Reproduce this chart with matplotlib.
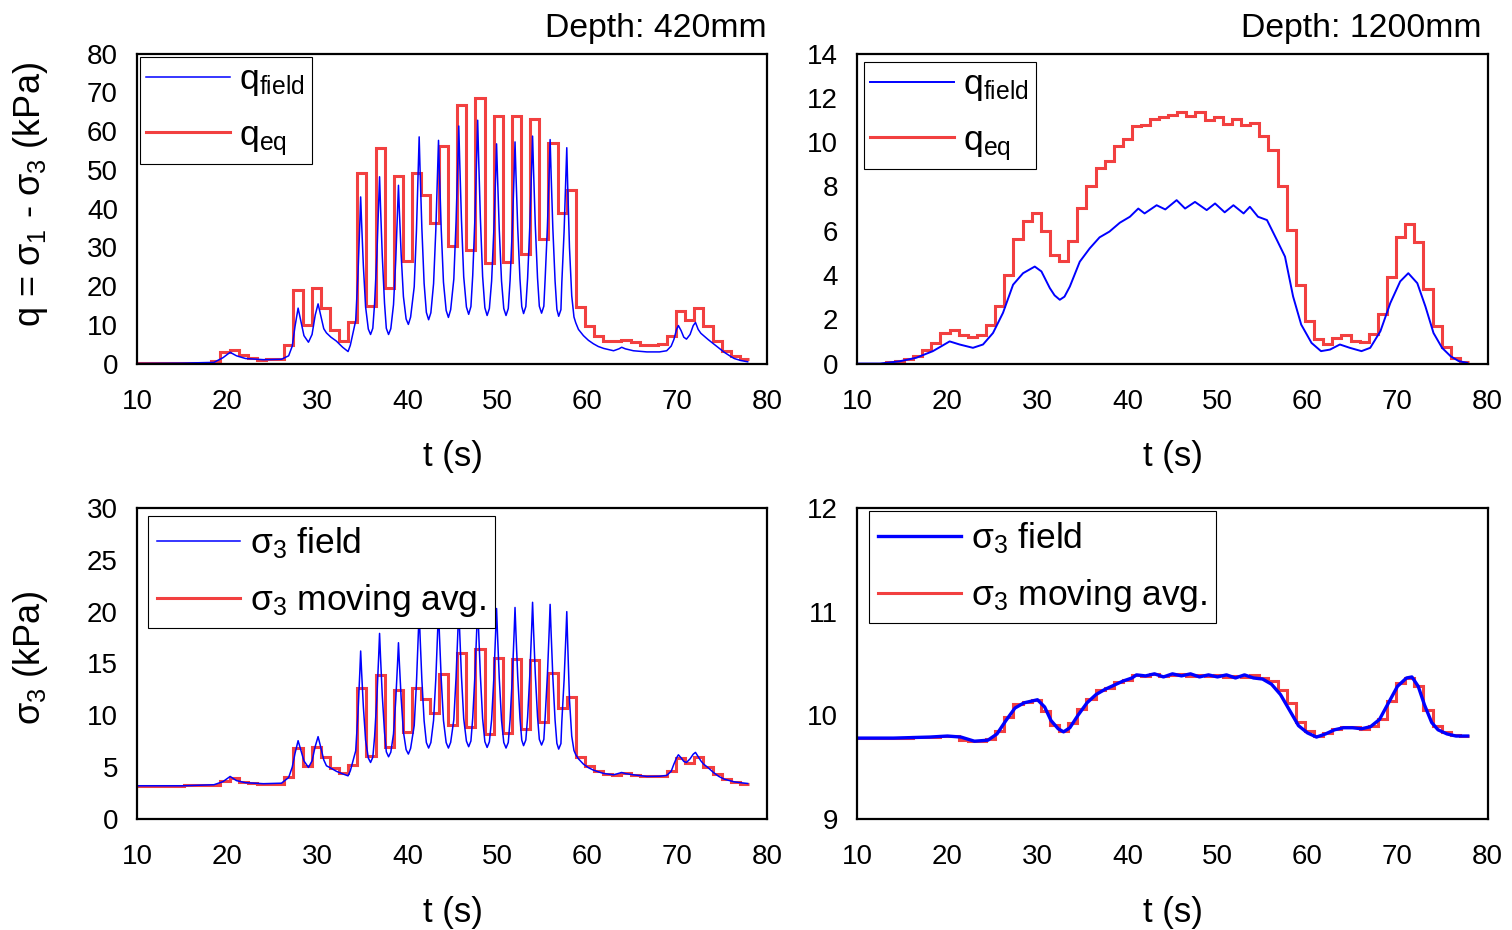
"""Field stress records at two depths against the 1 s moving-window equivalents."""

import numpy as np
import matplotlib
matplotlib.use("Agg")
import matplotlib.pyplot as plt

plt.rcParams["font.family"] = ["Liberation Sans", "DejaVu Sans"]
plt.rcParams["mathtext.fontset"] = "custom"
plt.rcParams["mathtext.rm"] = "Liberation Sans"
plt.rcParams["mathtext.it"] = "Liberation Sans:italic"
plt.rcParams["mathtext.bf"] = "Liberation Sans:bold"
plt.rcParams["mathtext.default"] = "regular"

BLUE = "#0000FF"
RED = "#F24040"

# window edges (s) of the moving average, shared by all four records
win_edges = [
    10.0, 13.15, 14.15, 15.15, 16.15, 17.2,
    18.2, 19.2, 20.25, 21.25, 22.3, 23.3, 24.3, 25.3, 26.3, 27.3,
    28.35, 29.35, 30.35, 31.35, 32.4, 33.4, 34.4, 35.4, 36.45, 37.45,
    38.45, 39.5, 40.5, 41.5, 42.55, 43.55, 44.55, 45.55, 46.55, 47.55,
    48.6, 49.6, 50.6, 51.6, 52.65, 53.65, 54.65, 55.65, 56.7, 57.7,
    58.7, 59.7, 60.75, 61.75, 62.75, 63.75, 64.8, 65.8, 66.8, 67.8,
    68.8, 69.85, 70.85, 71.85, 72.85, 73.9, 74.9, 75.9, 76.9, 77.9,
]

# q_eq per window (kPa), depth 420 mm
q_eq_420 = [
    0.1, 0.1, 0.1, 0.1, 0.1, 0.2,
    0.6, 2.9, 3.6, 2.1, 1.5, 1.0, 1.2, 1.2, 4.7, 18.9,
    9.9, 19.5, 14.3, 8.7, 5.9, 10.7, 49.2, 14.9, 55.5, 19.5,
    48.4, 26.5, 49.3, 43.6, 36.3, 56.1, 30.4, 66.6, 29.3, 68.6,
    25.9, 64.0, 26.3, 63.8, 28.2, 63.2, 32.1, 56.9, 38.8, 44.9,
    14.5, 9.8, 7.2, 5.7, 5.7, 6.2, 5.5, 4.9, 4.9, 5.1,
    7.2, 13.5, 11.3, 14.3, 9.8, 5.7, 3.2, 1.9, 1.2,
]

# q_eq per window (kPa), depth 1200 mm
q_eq_1200 = [
    0.0, 0.06, 0.1, 0.21, 0.33, 0.6,
    0.93, 1.38, 1.5, 1.31, 1.19, 1.31, 1.73, 2.61, 4.0, 5.63,
    6.44, 6.81, 6.0, 4.91, 4.61, 5.55, 7.04, 8.03, 8.85, 9.15,
    9.83, 10.13, 10.72, 10.79, 11.06, 11.13, 11.24, 11.36, 11.17, 11.36,
    11.02, 11.13, 10.84, 11.03, 10.79, 10.88, 10.28, 9.64, 8.03, 6.03,
    3.53, 1.94, 1.13, 0.9, 1.16, 1.28, 1.04, 0.96, 1.34, 2.25,
    3.9, 5.73, 6.3, 5.51, 3.38, 1.68, 0.73, 0.26, 0.06,
]

# sigma_3 moving average per window (kPa), depth 420 mm
s3_avg_420 = [
    3.2, 3.2, 3.2, 3.25, 3.25, 3.3,
    3.3, 3.68, 3.94, 3.58, 3.45, 3.42, 3.42, 3.42, 4.06, 6.84,
    5.13, 6.9, 5.94, 4.9, 4.42, 5.23, 12.65, 6.1, 13.9, 6.97,
    12.48, 8.35, 12.65, 11.58, 10.23, 14.0, 9.06, 16.0, 8.84, 16.35,
    8.19, 15.52, 8.29, 15.39, 8.68, 15.36, 9.39, 14.1, 10.68, 11.81,
    6.0, 5.13, 4.65, 4.32, 4.26, 4.39, 4.26, 4.16, 4.13, 4.19,
    4.65, 5.84, 5.39, 5.94, 5.06, 4.32, 3.84, 3.58, 3.42,
]

# sigma_3 moving average per window (kPa), depth 1200 mm
s3_avg_1200 = [
    9.78, 9.78, 9.78, 9.785, 9.79, 9.79,
    9.79, 9.80, 9.80, 9.76, 9.75, 9.75, 9.77, 9.85, 9.98, 10.11,
    10.13, 10.15, 10.04, 9.91, 9.85, 9.93, 10.06, 10.16, 10.24, 10.26,
    10.32, 10.34, 10.39, 10.38, 10.40, 10.38, 10.39, 10.40, 10.38, 10.39,
    10.38, 10.39, 10.37, 10.38, 10.37, 10.39, 10.36, 10.33, 10.24, 10.12,
    9.94, 9.85, 9.80, 9.83, 9.87, 9.89, 9.89, 9.87, 9.90, 9.96,
    10.14, 10.31, 10.36, 10.28, 10.05, 9.90, 9.84, 9.81, 9.80,
]

# field records, (t [s], value [kPa])
q_field_420 = np.array([
    (10.0, 0.0), (15.0, 0.1), (18.5, 0.3), (19.5, 1.5), (20.3, 2.9), (21.0, 2.0),
    (22.0, 1.3), (24.0, 1.0), (26.0, 1.1), (26.8, 2.0),
    (27.2, 4.5), (27.5, 9.5), (27.85, 14.3), (28.2, 10.5), (28.5, 7.2), (29.0, 5.5),
    (29.4, 7.5), (29.75, 12.5), (30.07, 15.4), (30.4, 12.0),
    (30.7, 9.0), (31.0, 7.9), (31.5, 6.8), (32.1, 5.8), (32.8, 4.2), (33.4, 3.1),
    (33.65, 4.7), (34.25, 11.1), (34.5, 23.05), (34.7, 35.8), (34.8, 43.0),
    (34.9, 36.6), (35.1, 25.25), (35.35, 14.6), (35.65, 8.9), (35.9, 7.5),
    (36.15, 9.1), (36.35, 15.6), (36.6, 27.9), (36.8, 40.9), (36.9, 48.2),
    (37.0, 40.9), (37.2, 27.9), (37.45, 15.6), (37.65, 9.1), (37.9, 7.5),
    (38.15, 9.0), (38.45, 15.2), (38.7, 26.8), (38.9, 39.1), (39.0, 46.0),
    (39.1, 39.5), (39.3, 28.1), (39.55, 17.3), (39.85, 11.5), (40.1, 10.1),
    (40.35, 12.0), (40.75, 19.8), (41.0, 34.3), (41.2, 49.8), (41.3, 58.5),
    (41.4, 50.0), (41.6, 34.9), (41.85, 20.7), (42.1, 13.2), (42.35, 11.3),
    (42.6, 13.1), (42.9, 20.6), (43.15, 34.45), (43.35, 49.3), (43.45, 57.6),
    (43.55, 49.4), (43.75, 34.75), (44.0, 21.0), (44.3, 13.7), (44.55, 11.9),
    (44.8, 13.9), (45.15, 21.8), (45.4, 36.6), (45.6, 52.4), (45.7, 61.3),
    (45.8, 52.6), (46.0, 37.0), (46.25, 22.4), (46.55, 14.6), (46.8, 12.7),
    (47.05, 14.7), (47.25, 22.7), (47.5, 37.75), (47.7, 53.8), (47.8, 62.8),
    (47.9, 53.7), (48.1, 37.6), (48.35, 22.5), (48.6, 14.4), (48.85, 12.4),
    (49.1, 14.2), (49.35, 21.3), (49.6, 34.55), (49.8, 48.7), (49.9, 56.7),
    (50.0, 48.7), (50.2, 34.55), (50.45, 21.3), (50.7, 14.2), (50.95, 12.4),
    (51.2, 14.2), (51.4, 21.4), (51.65, 34.8), (51.85, 49.1), (51.95, 57.2),
    (52.05, 49.2), (52.25, 35.05), (52.5, 21.8), (52.7, 14.7), (52.9, 12.9),
    (53.15, 14.7), (53.35, 22.1), (53.6, 35.8), (53.8, 50.5), (53.9, 58.7),
    (54.0, 50.5), (54.2, 35.85), (54.45, 22.1), (54.65, 14.8), (54.9, 13.0),
    (55.15, 14.8), (55.3, 22.0), (55.55, 35.4), (55.75, 49.7), (55.85, 57.8),
    (55.95, 49.6), (56.15, 35.0), (56.4, 21.3), (56.6, 14.0), (56.8, 12.2),
    (57.05, 13.9), (57.15, 20.9), (57.4, 33.95), (57.6, 47.9), (57.7, 55.7),
    (57.8, 46.0), (58.0, 30.0), (58.25, 17.5), (58.5, 12.0), (58.7, 10.5),
    (59.0, 8.8), (59.55, 7.2), (60.1, 6.0), (60.66, 5.1), (61.2, 4.4), (61.8, 3.9), (62.9, 3.3), (63.5, 3.8),
    (63.8, 4.2), (64.2, 3.8), (65.1, 3.3), (66.6, 3.0), (68.0, 3.0), (68.8, 3.3), (69.3, 4.5), (69.6, 6.2),
    (69.9, 8.8), (70.1, 9.8), (70.4, 8.5), (70.7, 6.8), (71.0, 6.3), (71.4, 7.5), (71.75, 9.8), (72.0, 10.6),
    (72.3, 8.8), (72.6, 7.8), (72.9, 7.2), (73.4, 6.2), (74.0, 5.1), (74.6, 4.0), (75.2, 2.9), (75.8, 2.0),
    (76.3, 1.3), (77.0, 0.8), (77.8, 0.45),
])

q_field_1200 = np.array([
    (10.0, 0.0), (12.5, 0.0), (14.67, 0.1), (16.53, 0.26), (18.38, 0.56), (19.4, 0.8),
    (20.24, 1.0), (21.35, 0.86), (22.83, 0.71), (23.95, 0.86), (25.06, 1.38), (26.17, 2.29),
    (27.29, 3.56), (28.4, 4.08), (29.7, 4.38), (30.44, 4.16), (31.37, 3.41), (31.9, 3.08),
    (32.48, 2.88), (33.0, 3.02), (33.6, 3.48), (34.7, 4.6), (35.8, 5.2), (36.9, 5.7),
    (38.0, 5.96), (39.15, 6.36), (40.27, 6.63), (41.2, 7.0), (41.9, 6.78), (43.24, 7.15),
    (44.2, 6.96), (45.46, 7.38), (46.4, 7.0), (47.5, 7.3), (48.8, 6.93), (49.73, 7.23),
    (50.8, 6.83), (51.77, 7.15), (52.9, 6.78), (53.6, 7.08), (54.5, 6.63), (55.5, 6.48),
    (56.6, 5.58), (57.5, 4.83), (58.4, 3.03), (59.3, 1.76), (60.45, 0.93), (61.5, 0.56),
    (62.5, 0.63), (63.6, 0.86), (64.7, 0.71), (66.0, 0.56), (66.97, 0.71), (68.1, 1.46),
    (69.2, 2.73), (70.3, 3.71), (71.2, 4.08), (72.2, 3.63), (73.1, 2.58), (74.0, 1.38),
    (74.95, 0.71), (75.9, 0.33), (76.8, 0.11), (77.75, 0.03),
])

s3_field_420 = np.array([
    (10.0, 3.2), (15.0, 3.2), (18.5, 3.3), (19.5, 3.6), (20.3, 4.1), (21.0, 3.7),
    (22.0, 3.5), (24.0, 3.4), (26.0, 3.45), (26.8, 4.0),
    (27.2, 5.0), (27.5, 6.3), (27.85, 7.55), (28.2, 6.5), (28.5, 5.6), (29.0, 4.97),
    (29.4, 5.6), (29.75, 7.0), (30.07, 7.94), (30.4, 6.8),
    (30.7, 5.7), (31.0, 5.13), (31.5, 4.9), (32.1, 4.6), (32.8, 4.35), (33.4, 4.16),
    (33.65, 4.64), (34.25, 6.57), (34.5, 10.18), (34.7, 14.03), (34.8, 16.2),
    (34.9, 14.27), (35.1, 10.83), (35.35, 7.6), (35.65, 5.88), (35.9, 5.45),
    (36.15, 5.95), (36.35, 7.94), (36.6, 11.68), (36.8, 15.66), (36.9, 17.9),
    (37.0, 15.76), (37.2, 11.95), (37.45, 8.38), (37.65, 6.48), (37.9, 6.0),
    (38.15, 6.44), (38.45, 8.2), (38.7, 11.5), (38.9, 15.02), (39.0, 17.0),
    (39.1, 15.07), (39.3, 11.63), (39.55, 8.41), (39.85, 6.69), (40.1, 6.26),
    (40.35, 6.81), (40.75, 9.01), (41.0, 13.13), (41.2, 17.53), (41.3, 20.0),
    (41.4, 17.63), (41.6, 13.42), (41.85, 9.47), (42.1, 7.37), (42.35, 6.84),
    (42.6, 7.37), (42.9, 9.51), (43.15, 13.52), (43.35, 17.8), (43.45, 20.2),
    (43.55, 17.8), (43.75, 13.52), (44.0, 9.51), (44.3, 7.37), (44.55, 6.84),
    (44.8, 7.39), (45.15, 9.57), (45.4, 13.67), (45.6, 18.04), (45.7, 20.5),
    (45.8, 18.06), (46.0, 13.74), (46.25, 9.68), (46.55, 7.51), (46.8, 6.97),
    (47.05, 7.52), (47.25, 9.74), (47.5, 13.89), (47.7, 18.31), (47.8, 20.8),
    (47.9, 18.3), (48.1, 13.85), (48.35, 9.68), (48.6, 7.46), (48.85, 6.9),
    (49.1, 7.44), (49.35, 9.58), (49.6, 13.6), (49.8, 17.89), (49.9, 20.3),
    (50.0, 17.88), (50.2, 13.57), (50.45, 9.53), (50.7, 7.38), (50.95, 6.84),
    (51.2, 7.38), (51.4, 9.55), (51.65, 13.62), (51.85, 17.96), (51.95, 20.4),
    (52.05, 18.0), (52.25, 13.74), (52.5, 9.74), (52.7, 7.6), (52.9, 7.07),
    (53.15, 7.62), (53.35, 9.84), (53.6, 13.99), (53.8, 18.41), (53.9, 20.9),
    (54.0, 18.42), (54.2, 14.02), (54.45, 9.88), (54.65, 7.68), (54.9, 7.13),
    (55.15, 7.67), (55.3, 9.84), (55.55, 13.92), (55.75, 18.26), (55.85, 20.7),
    (55.95, 18.19), (56.15, 13.72), (56.4, 9.53), (56.6, 7.3), (56.8, 6.74),
    (57.05, 7.27), (57.15, 9.39), (57.4, 13.37), (57.6, 17.61), (57.7, 20.0),
    (57.8, 17.0), (58.0, 11.5), (58.25, 8.0), (58.5, 6.6), (58.7, 6.2),
    (59.0, 5.8), (59.55, 5.29), (60.1, 4.95), (60.66, 4.71), (61.2, 4.55), (61.8, 4.39), (62.9, 4.26), (63.5, 4.4),
    (63.8, 4.48), (64.2, 4.38), (65.1, 4.26), (66.6, 4.1), (68.0, 4.12), (68.8, 4.2), (69.3, 4.6), (69.6, 5.29),
    (69.9, 5.9), (70.1, 6.19), (70.4, 5.9), (70.7, 5.55), (71.0, 5.45), (71.4, 5.8), (71.75, 6.25), (72.0, 6.42),
    (72.3, 6.0), (72.6, 5.6), (72.9, 5.29), (73.4, 4.95), (74.0, 4.48), (74.6, 4.1), (75.2, 3.84), (75.8, 3.7),
    (76.3, 3.58), (77.0, 3.5), (77.8, 3.42),
])

s3_field_1200 = np.array([
    (10.0, 9.78), (14.0, 9.78), (18.0, 9.79), (20.0, 9.80), (21.5, 9.79), (23.0, 9.75),
    (24.5, 9.76), (25.5, 9.82), (26.5, 9.95), (27.5, 10.07), (28.5, 10.12), (29.5, 10.14),
    (30.0, 10.15), (30.8, 10.08), (31.5, 9.95), (32.3, 9.87), (32.9, 9.84), (33.6, 9.88),
    (34.5, 10.0), (35.5, 10.12), (36.5, 10.2), (37.5, 10.25), (38.5, 10.29), (39.5, 10.33),
    (40.5, 10.36), (41.0, 10.39), (42.0, 10.38), (43.0, 10.40), (44.0, 10.37), (45.0, 10.40),
    (46.0, 10.38), (47.0, 10.40), (48.0, 10.37), (49.0, 10.39), (50.0, 10.37), (51.0, 10.39),
    (52.0, 10.36), (53.0, 10.39), (54.0, 10.36), (55.0, 10.35), (56.0, 10.30), (57.0, 10.20),
    (58.0, 10.05), (59.0, 9.90), (60.0, 9.83), (61.0, 9.79), (62.0, 9.82), (63.0, 9.86),
    (64.0, 9.88), (65.0, 9.88), (66.0, 9.87), (67.0, 9.89), (68.0, 9.96), (69.0, 10.12),
    (70.0, 10.28), (71.0, 10.36), (71.6, 10.37), (72.3, 10.28), (73.0, 10.10), (73.8, 9.93),
    (74.5, 9.86), (75.5, 9.82), (76.5, 9.80), (77.8, 9.80),
])

TICK_FS = 20
XLABEL_FS = 25
YLABEL_FS = 26
LEGEND_FS = 25.5
DEPTH_FS = 24.3


def style_axes(ax, ylim, yticks):
    ax.set_xlim(10, 80)
    ax.set_xticks(range(10, 81, 10))
    ax.set_ylim(*ylim)
    ax.set_yticks(yticks)
    ax.tick_params(length=0, labelsize=TICK_FS)
    ax.tick_params(axis="x", pad=18)
    ax.tick_params(axis="y", pad=14)
    for sp in ax.spines.values():
        sp.set_linewidth(1.6)
    ax.set_xlabel("t (s)", fontsize=XLABEL_FS)
    ax.xaxis.set_label_coords(0.5, -0.248)


def add_legend(ax, anchor, spacing, pad):
    leg = ax.legend(loc="upper left", bbox_to_anchor=anchor, borderaxespad=0,
                    fontsize=LEGEND_FS, fancybox=False, framealpha=1,
                    edgecolor="black", handlelength=2.35, handletextpad=0.28,
                    borderpad=pad, labelspacing=spacing)
    leg.get_frame().set_linewidth(0.8)


fig = plt.figure(figsize=(15.12, 9.3), dpi=100)
ax_tl = fig.add_axes([0.0909, 0.6091, 0.4167, 0.3333])
ax_tr = fig.add_axes([0.5671, 0.6091, 0.4167, 0.3333])
ax_bl = fig.add_axes([0.0909, 0.1194, 0.4167, 0.3344])
ax_br = fig.add_axes([0.5671, 0.1194, 0.4167, 0.3344])

# deviator stress
ax_tl.plot(q_field_420[:, 0], q_field_420[:, 1], color=BLUE, lw=1.1,
           label=r"q$_{field}$")
ax_tl.stairs(q_eq_420, win_edges, baseline=None, color=RED, lw=2.2,
             label=r"q$_{eq}$")
style_axes(ax_tl, (0, 80), range(0, 81, 10))
ax_tl.set_ylabel(r"q = $\sigma_1$ - $\sigma_3$ (kPa)", fontsize=YLABEL_FS)
ax_tl.yaxis.set_label_coords(-0.139, 0.544)
add_legend(ax_tl, (0.004, 0.989), 0.58, 0.18)
ax_tl.text(0.998, 1.055, "Depth: 420mm", transform=ax_tl.transAxes,
           ha="right", va="baseline", fontsize=DEPTH_FS)

ax_tr.plot(q_field_1200[:, 0], q_field_1200[:, 1], color=BLUE, lw=1.4,
           label=r"q$_{field}$")
ax_tr.stairs(q_eq_1200, win_edges, baseline=None, color=RED, lw=2.2,
             label=r"q$_{eq}$")
style_axes(ax_tr, (0, 14), range(0, 15, 2))
add_legend(ax_tr, (0.0103, 0.973), 0.58, 0.18)
ax_tr.text(0.99, 1.055, "Depth: 1200mm", transform=ax_tr.transAxes,
           ha="right", va="baseline", fontsize=DEPTH_FS)

# confining stress
ax_bl.plot(s3_field_420[:, 0], s3_field_420[:, 1], color=BLUE, lw=1.1,
           label=r"$\sigma_3$ field")
ax_bl.stairs(s3_avg_420, win_edges, baseline=None, color=RED, lw=2.2,
             label=r"$\sigma_3$ moving avg.")
style_axes(ax_bl, (0, 30), range(0, 31, 5))
ax_bl.set_ylabel(r"$\sigma_3$ (kPa)", fontsize=YLABEL_FS)
ax_bl.yaxis.set_label_coords(-0.139, 0.519)
add_legend(ax_bl, (0.0167, 0.973), 0.6, 0.25)

ax_br.plot(s3_field_1200[:, 0], s3_field_1200[:, 1], color=BLUE, lw=2.4,
           label=r"$\sigma_3$ field")
ax_br.stairs(s3_avg_1200, win_edges, baseline=None, color=RED, lw=2.2,
             label=r"$\sigma_3$ moving avg.")
style_axes(ax_br, (9, 12), range(9, 13))
add_legend(ax_br, (0.0183, 0.989), 0.6, 0.25)

fig.savefig("out.png", dpi=100)
